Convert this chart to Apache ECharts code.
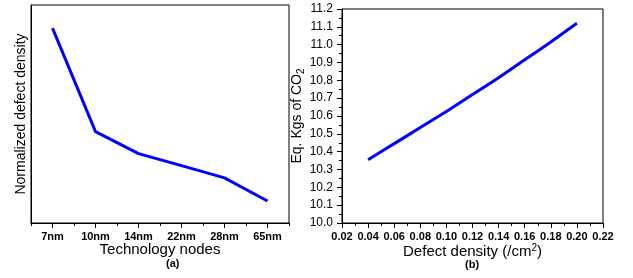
<!DOCTYPE html>
<html>
<head>
<meta charset="utf-8">
<script src="https://cdn.jsdelivr.net/npm/echarts@6/dist/echarts.min.js"></script>
<style>
html, body { margin: 0; padding: 0; background: #fff; }
#container { width: 633px; height: 278px; }
</style>
</head>
<body>
<div id="container"></div>
<script>
// (a) normalized defect density per technology node
var nodes = ['7nm', '10nm', '14nm', '22nm', '28nm', '65nm'];
var normDensity = [0.894, 0.419, 0.318, 0.263, 0.207, 0.101];

// (b) CO2 vs defect density
var defectDensity = [0.04, 0.06, 0.08, 0.10, 0.12, 0.14, 0.16, 0.18, 0.20];
var co2Kgs = [10.355, 10.445, 10.535, 10.625, 10.72, 10.815, 10.915, 11.015, 11.12];

var font = 'Arial, "Liberation Sans", sans-serif';
var blue = '#0000ff';

var co2Data = defectDensity.map(function (d, i) {
    return [d, co2Kgs[i]];
});

var dom = document.getElementById('container');
var myChart = echarts.init(dom);

var option = {
    animation: false,
    textStyle: { fontFamily: font },
    grid: [
        { left: 31, top: 5, width: 258, height: 218, show: true, borderColor: '#000', borderWidth: 1 },
        { left: 342, top: 9, width: 261, height: 214, show: true, borderColor: '#000', borderWidth: 1 }
    ],
    graphic: [
        { type: 'text', left: 166, top: 258, style: { text: '(a)', font: 'bold 11px ' + font, fill: '#000' } },
        { type: 'text', left: 465, top: 259, style: { text: '(b)', font: 'bold 11px ' + font, fill: '#000' } }
    ],
    xAxis: [
        {
            gridIndex: 0,
            type: 'category',
            data: nodes,
            position: 'bottom',
            boundaryGap: true,
            name: 'Technology nodes',
            nameLocation: 'middle',
            nameGap: 19,
            nameMoveOverlap: false,
            nameTextStyle: { fontSize: 15, color: '#000', fontFamily: font },
            axisLine: { show: true, lineStyle: { color: '#000', width: 1 } },
            axisTick: { show: true, alignWithLabel: true, length: 5, lineStyle: { color: '#000' } },
            axisLabel: { fontSize: 11, fontWeight: 'bold', color: '#000', margin: 8, fontFamily: font },
            splitLine: { show: false }
        },
        {
            // minor ticks between categories
            gridIndex: 0,
            type: 'category',
            data: nodes,
            position: 'bottom',
            boundaryGap: true,
            axisLine: { show: false },
            axisTick: { show: true, length: 3, lineStyle: { color: '#000' } },
            axisLabel: { show: false },
            splitLine: { show: false }
        },
        {
            gridIndex: 1,
            type: 'value',
            min: 0.02,
            max: 0.22,
            interval: 0.02,
            name: '{a|Defect density (/cm}{s|2}{a|)}',
            nameLocation: 'middle',
            nameGap: 20,
            nameMoveOverlap: false,
            nameTextStyle: {
                rich: {
                    a: { fontSize: 15, color: '#000', fontFamily: font, lineHeight: 18 },
                    s: { fontSize: 10, color: '#000', fontFamily: font, lineHeight: 10, verticalAlign: 'top' }
                }
            },
            axisLine: { lineStyle: { color: '#000', width: 1 } },
            axisTick: { length: 5, lineStyle: { color: '#000' } },
            minorTick: { show: true, splitNumber: 2, length: 3, lineStyle: { color: '#000' } },
            axisLabel: {
                fontSize: 11, fontWeight: 'bold', color: '#000', margin: 8, fontFamily: font,
                formatter: function (v) { return v.toFixed(2); }
            },
            splitLine: { show: false }
        }
    ],
    yAxis: [
        {
            gridIndex: 0,
            type: 'value',
            min: 0,
            max: 1,
            name: 'Normalized defect density',
            nameLocation: 'middle',
            nameRotate: 90,
            nameGap: 3,
            nameMoveOverlap: false,
            nameTextStyle: { fontSize: 14, color: '#000', fontFamily: font },
            axisLine: { show: true, lineStyle: { color: '#000', width: 1 } },
            axisTick: { show: false },
            axisLabel: { show: false },
            splitLine: { show: false }
        },
        {
            gridIndex: 1,
            type: 'value',
            min: 10.0,
            max: 11.2,
            interval: 0.1,
            name: '{a|Eq. Kgs of CO}{s|2}',
            nameLocation: 'middle',
            nameRotate: 90,
            nameGap: 36,
            nameMoveOverlap: false,
            nameTextStyle: {
                rich: {
                    a: { fontSize: 14, color: '#000', fontFamily: font, lineHeight: 18 },
                    s: { fontSize: 10, color: '#000', fontFamily: font, lineHeight: 10, verticalAlign: 'bottom' }
                }
            },
            axisLine: { show: true, lineStyle: { color: '#000', width: 1 } },
            axisTick: { length: 5, lineStyle: { color: '#000' } },
            minorTick: { show: true, splitNumber: 2, length: 3, lineStyle: { color: '#000' } },
            axisLabel: {
                fontSize: 12, color: '#000', margin: 9, fontFamily: font,
                formatter: function (v) { return v.toFixed(1); }
            },
            splitLine: { show: false }
        }
    ],
    series: [
        {
            name: 'Normalized defect density',
            type: 'line',
            xAxisIndex: 0,
            yAxisIndex: 0,
            data: normDensity,
            symbol: 'none',
            lineStyle: { color: blue, width: 3 }
        },
        {
            name: 'Eq. Kgs of CO2',
            type: 'line',
            xAxisIndex: 2,
            yAxisIndex: 1,
            data: co2Data,
            symbol: 'none',
            smooth: 0.2,
            lineStyle: { color: blue, width: 3 }
        }
    ]
};

myChart.setOption(option);
</script>
</body>
</html>
